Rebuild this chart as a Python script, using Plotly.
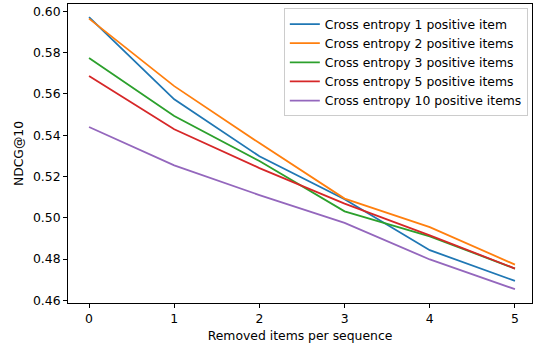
import plotly.graph_objects as go

x_values = [0, 1, 2, 3, 4, 5]
series_names = [
    "Cross entropy 1 positive item",
    "Cross entropy 2 positive items",
    "Cross entropy 3 positive items",
    "Cross entropy 5 positive items",
    "Cross entropy 10 positive items",
]
ce1 = [0.5972, 0.5574, 0.5298, 0.5090, 0.4843, 0.4694]
ce2 = [0.5965, 0.5638, 0.5362, 0.5093, 0.4955, 0.4773]
ce3 = [0.5774, 0.5493, 0.5275, 0.5031, 0.4910, 0.4754]
ce5 = [0.5687, 0.5429, 0.5241, 0.5069, 0.4915, 0.4754]
ce10 = [0.5440, 0.5254, 0.5110, 0.4975, 0.4798, 0.4654]
colors = ["#1f77b4", "#ff7f0e", "#2ca02c", "#d62728", "#9467bd"]
y_ticks = [0.46, 0.48, 0.50, 0.52, 0.54, 0.56, 0.58, 0.60]

fig = go.Figure()
for name, ys, c in zip(series_names, [ce1, ce2, ce3, ce5, ce10], colors):
    fig.add_trace(go.Scatter(x=x_values, y=ys, mode="lines", name=name,
                             line=dict(color=c, width=1.8)))

fs = 12.4
font = dict(family="DejaVu Sans", size=fs, color="black")
fig.update_layout(
    width=537, height=347,
    margin=dict(l=68, r=5, t=4, b=44),
    plot_bgcolor="white", paper_bgcolor="white",
    font=font,
    showlegend=True,
    legend=dict(x=0.991, y=0.985, xanchor="right", yanchor="top",
                bgcolor="rgba(255,255,255,0.8)", bordercolor="#cccccc", borderwidth=1,
                font=dict(family="DejaVu Sans", size=fs, color="black"),
                itemwidth=30, tracegroupgap=0),
)
fig.update_xaxes(range=[-0.247, 5.2], tickmode="array", tickvals=x_values,
                 ticktext=[str(v) for v in x_values],
                 tickfont=font,
                 showgrid=False, zeroline=False, showline=True, linecolor="black",
                 linewidth=1, mirror=True, ticks="outside", ticklen=4, tickcolor="black",
                 title=dict(text="Removed items per sequence", standoff=6, font=font))
fig.update_yaxes(range=[0.4587, 0.6036], tickmode="array", tickvals=y_ticks,
                 ticktext=[f"{v:.2f}" for v in y_ticks],
                 tickfont=font,
                 showgrid=False, zeroline=False, showline=True, linecolor="black",
                 linewidth=1, mirror=True, ticks="outside", ticklen=4, tickcolor="black",
                 title=dict(text="NDCG@10", standoff=6, font=font))

fig.write_html("out.html")
